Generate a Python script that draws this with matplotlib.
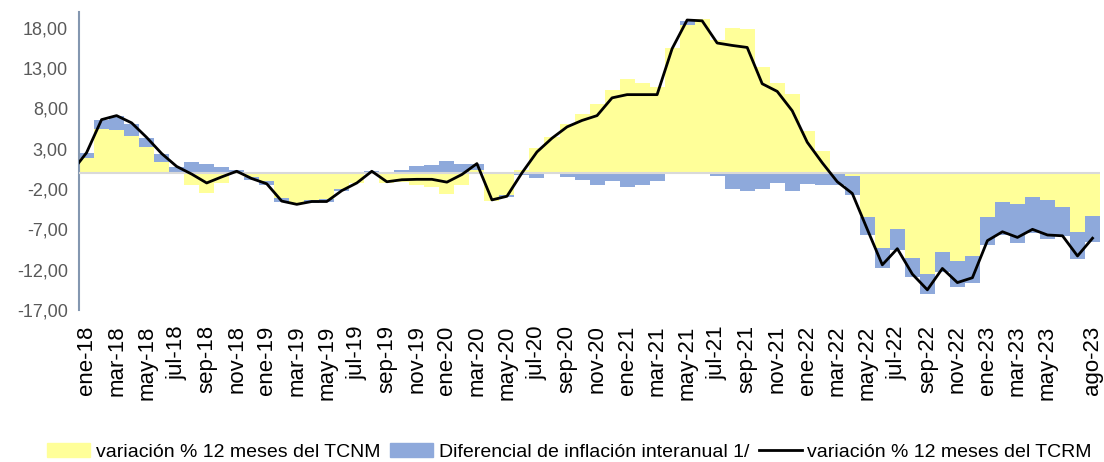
import numpy as np
import matplotlib
matplotlib.use("Agg")
import matplotlib.pyplot as plt
from matplotlib.patches import Patch
from matplotlib.lines import Line2D

plt.rcParams['font.family'] = ['Liberation Sans', 'DejaVu Sans']

#meses ene-18 .. ago-23
meses = ['ene', 'feb', 'mar', 'abr', 'may', 'jun', 'jul', 'ago', 'sep', 'oct', 'nov', 'dic']
fechas = [m + '-' + str(a) for a in range(18, 24) for m in meses][:68]

#variacion % 12 meses del TCNM (barras amarillas)
tcnm = [1.9, 5.4, 5.3, 4.6, 3.2, 1.4, -0.2, -1.55, -2.45, -1.2, -0.1, -0.45,
        -1.0, -3.1, -3.8, -3.4, -3.3, -2.0, -1.25, -0.05, -1.2, -1.15, -1.55, -1.8,
        -2.6, -1.5, 0.3, -3.5, -2.7, 0.3, 3.1, 4.4, 6.05, 7.3, 8.5, 10.3,
        11.6, 11.15, 10.6, 15.5, 18.35, 19.05, 16.5, 17.95, 17.8, 13.1, 11.15, 9.8,
        5.25, 2.65, 0.1, -0.4, -5.5, -9.35, -7.0, -10.6, -12.55, -9.8, -10.9, -10.3,
        -5.45, -3.6, -3.9, -3.0, -3.4, -4.2, -7.3, -5.4]

#diferencial de inflacion interanual (barras azules)
dif = [0.6, 1.2, 1.8, 1.5, 1.1, 0.9, 0.7, 1.3, 1.05, 0.7, 0.3, -0.4,
       -0.45, -0.5, -0.1, -0.35, -0.3, -0.2, 0.05, 0.2, 0.1, 0.3, 0.8, 1.0,
       1.45, 1.05, 0.85, 0.1, -0.3, -0.3, -0.6, -0.2, -0.45, -0.85, -1.5, -0.95,
       -1.75, -1.5, -1.0, -0.2, 0.5, -0.1, -0.4, -1.95, -2.3, -2.05, -1.3, -2.3,
       -1.4, -1.5, -1.5, -2.3, -2.2, -2.5, -2.55, -2.25, -2.5, -2.45, -3.25, -3.4,
       -3.5, -4.1, -4.75, -4.5, -4.75, -3.6, -3.4, -3.2]

#variacion % 12 meses del TCRM (linea), dic-17 primero
tcrm_dic17 = 0.1
tcrm = [2.5, 6.6, 7.1, 6.2, 4.4, 2.4, 0.8, -0.15, -1.25, -0.5, 0.2, -0.7,
        -1.35, -3.5, -3.9, -3.55, -3.55, -2.2, -1.25, 0.2, -1.1, -0.85, -0.8, -0.8,
        -1.15, -0.2, 1.15, -3.35, -2.9, 0.0, 2.6, 4.3, 5.7, 6.5, 7.1, 9.3,
        9.7, 9.7, 9.7, 15.4, 18.95, 18.85, 16.1, 15.8, 15.55, 11.05, 10.1, 7.7,
        3.8, 1.25, -1.1, -2.55, -7.0, -11.4, -9.4, -12.55, -14.5, -11.85, -13.6, -13.0,
        -8.4, -7.3, -8.0, -7.0, -7.7, -7.8, -10.3, -8.1]

amarillo = '#FFFF99'
azul = '#8EA9DB'

x = np.arange(len(fechas))
y1 = np.array(tcnm)
y2 = np.array(dif)
#apilado estilo excel: positivos sobre positivos, negativos bajo negativos
base2 = np.where(y2 >= 0, np.maximum(y1, 0), np.minimum(y1, 0))

fig = plt.figure(figsize=(11.04, 4.62), dpi=100)
ax = fig.add_axes([0.0716, 0.329, 0.9248, 0.646])

ax.bar(x, y1, width=1.0, color=amarillo, linewidth=0, zorder=2)
ax.bar(x, y2, width=1.0, bottom=base2, color=azul, linewidth=0, zorder=2)
ax.axhline(0, color='#D9D9D9', linewidth=1.5, zorder=3)
ax.plot(np.concatenate(([-1], x)), [tcrm_dic17] + tcrm, color='black', linewidth=2, zorder=4)

ax.set_xlim(-0.5, len(fechas) - 0.5)
ax.set_ylim(-17, 20)
ax.set_yticks(np.arange(-17, 19, 5))
ax.set_yticklabels([('%.2f' % v).replace('.', ',') for v in np.arange(-17, 19, 5)],
                   fontsize=13, color='#595959')
ticks = list(range(0, 65, 2)) + [67]
ax.set_xticks(ticks)
ax.set_xticklabels([fechas[i] for i in ticks], rotation=90, fontsize=16)
ax.tick_params(axis='x', length=0, pad=11)
ax.tick_params(axis='y', length=0, pad=8)

for s in ['top', 'right', 'bottom']:
    ax.spines[s].set_visible(False)
ax.spines['left'].set_color('#8497B0')
ax.spines['left'].set_linewidth(1.5)

handles = [Patch(color=amarillo), Patch(color=azul), Line2D([], [], color='black', linewidth=2)]
labels = ['variación % 12 meses del TCNM', 'Diferencial de inflación interanual 1/',
          'variación % 12 meses del TCRM']
fig.legend(handles, labels, loc='lower center', bbox_to_anchor=(0.516, -0.035), ncol=3,
           frameon=False, fontsize=14, handlelength=2.2, handletextpad=0.3,
           columnspacing=0.5)

fig.savefig('out.png', dpi=100)
